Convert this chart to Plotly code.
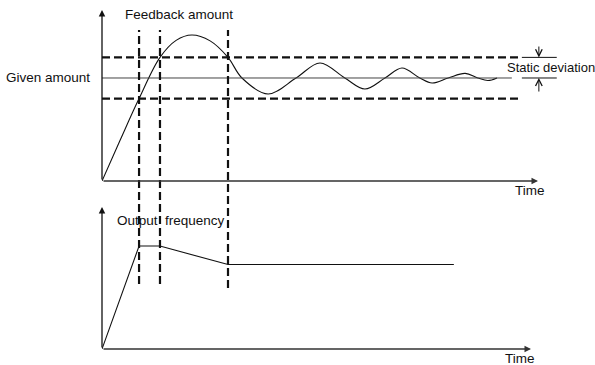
import plotly.graph_objects as go

W, H = 595, 365

# time in arbitrary units, 0..100 along the top time axis
feedback_t = [0, 4.2, 8.5, 13.3, 17.0, 20.6, 24.8, 28.9, 32.1, 38.1, 44.5, 50.0,
              55.7, 60.3, 64.9, 68.8, 72.9, 75.7, 79.4, 83.3, 86.2, 88.5, 90.6]
feedback_v = [0, 0.40, 0.80, 1.20, 1.365, 1.417, 1.36, 1.20, 1.0, 0.845, 1.0, 1.146,
              1.0, 0.893, 1.0, 1.097, 1.0, 0.951, 1.0, 1.045, 1.0, 0.975, 1.0]

given = 1.0
band = [0.8, 1.2]
band_end = 95.9
given_end = 94.0

switch_t = [8.5, 13.3, 28.9]

output_t = [0, 8.5, 13.3, 28.9, 80.7]
output_v = [0, 1.0, 1.0, 0.82, 0.82]

FONT = dict(family="Liberation Sans, Arial, sans-serif", size=13.5, color="#111")
XMAX = 110  # a little room right of the time arrow for the deviation marks


def px(x):
    return x / W


def py(y):
    return 1 - y / H


fig = go.Figure()

# feedback curve (top panel)
fig.add_trace(go.Scatter(x=feedback_t, y=feedback_v, mode="lines",
                         line=dict(color="#111", width=1.1, shape="spline", smoothing=1.0),
                         xaxis="x", yaxis="y", showlegend=False, hoverinfo="skip"))

# given amount and tolerance band
fig.add_trace(go.Scatter(x=[0, given_end], y=[given, given], mode="lines",
                         line=dict(color="#444", width=1),
                         xaxis="x", yaxis="y", showlegend=False, hoverinfo="skip"))
for b in band:
    fig.add_trace(go.Scatter(x=[0, band_end], y=[b, b], mode="lines",
                             line=dict(color="#111", width=2.2, dash="8px,4px"),
                             xaxis="x", yaxis="y", showlegend=False, hoverinfo="skip"))

# static deviation markers
for lvl in [band[1], given]:
    fig.add_trace(go.Scatter(x=[96.3, 104.3], y=[lvl, lvl], mode="lines",
                             line=dict(color="#111", width=1),
                             xaxis="x", yaxis="y", showlegend=False, hoverinfo="skip"))

# output frequency (bottom panel)
fig.add_trace(go.Scatter(x=output_t, y=output_v, mode="lines",
                         line=dict(color="#111", width=1.1),
                         xaxis="x2", yaxis="y2", showlegend=False, hoverinfo="skip"))

# switch-over instants, dashed across both panels
for i, t in enumerate(switch_t):
    fig.add_shape(type="line", xref="x", yref="paper", x0=t, x1=t,
                  y0=py(288 if i == 2 else 284), y1=py(30),
                  line=dict(color="#111", width=2.2, dash="8px,4px"))

arrow = dict(showarrow=True, arrowhead=2, arrowsize=1, arrowwidth=1.3,
             arrowcolor="#111", text="")
# axes with arrows
fig.add_annotation(x=0, y=1.66, ax=0, ay=0, xref="x", yref="y", axref="x", ayref="y", **arrow)
fig.add_annotation(x=100, y=0, ax=0, ay=0, xref="x", yref="y", axref="x", ayref="y",
                   **{**arrow, "arrowcolor": "#333"})
fig.add_annotation(x=0, y=1.379, ax=0, ay=0, xref="x2", yref="y2", axref="x2", ayref="y2", **arrow)
fig.add_annotation(x=98.4, y=0, ax=0, ay=0, xref="x2", yref="y2", axref="x2", ayref="y2",
                   **{**arrow, "arrowcolor": "#333"})

# static deviation arrows
small = dict(showarrow=True, arrowhead=5, arrowsize=1.3, arrowwidth=1,
             arrowcolor="#111", text="")
fig.add_annotation(x=100.2, y=band[1], ax=100.2, ay=1.32, xref="x", yref="y",
                   axref="x", ayref="y", **small)
fig.add_annotation(x=100.2, y=given, ax=100.2, ay=0.854, xref="x", yref="y",
                   axref="x", ayref="y", **small)

labels = [
    ("Feedback amount", 178.5, 15, "center", 13.5),
    ("Given amount", 5, 77, "left", 13.5),
    ("Static deviation", 596, 67, "right", 13),
    ("Time", 529.5, 190, "center", 13.5),
    ("Output  frequency", 170.5, 221, "center", 13.5),
    ("Time", 519.5, 358, "center", 13.5),
]
for txt, x, y, anchor, size in labels:
    fig.add_annotation(x=px(x), y=py(y), xref="paper", yref="paper", text=txt,
                       showarrow=False, xanchor=anchor, yanchor="middle",
                       font={**FONT, "size": size}, borderpad=0)

xr = px(102 + XMAX * 4.36)
fig.update_layout(
    width=W, height=H,
    margin=dict(l=0, r=0, t=0, b=0),
    paper_bgcolor="white", plot_bgcolor="white",
    xaxis=dict(domain=[px(102), xr], range=[0, XMAX], visible=False, anchor="y"),
    yaxis=dict(domain=[py(181), py(10)], range=[0, 1.66], visible=False, anchor="x"),
    xaxis2=dict(domain=[px(102), xr], range=[0, XMAX], visible=False, anchor="y2"),
    yaxis2=dict(domain=[py(349), py(207)], range=[0, 1.379], visible=False, anchor="x2"),
)

fig.write_html("out.html", config={"displayModeBar": False},
               post_script="document.body.style.margin='0';")
